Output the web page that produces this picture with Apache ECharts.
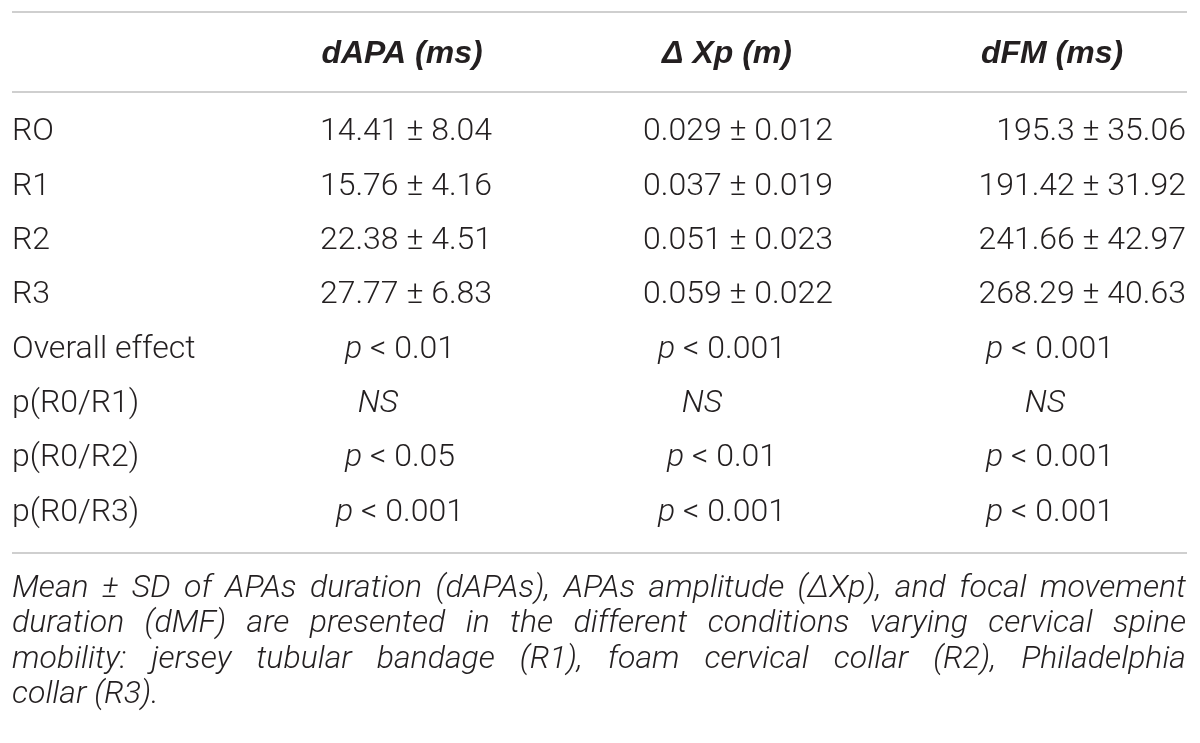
<!DOCTYPE html>
<html>
<head>
<meta charset="utf-8">
<script src="https://cdn.jsdelivr.net/npm/echarts@6/dist/echarts.min.js"></script>
<style>
  html, body { margin: 0; padding: 0; background: #fff; }
  #main { width: 1200px; height: 743px; }
</style>
</head>
<body>
<div id="main"></div>
<script>
// table content
const rowLabels = ['RO', 'R1', 'R2', 'R3', 'Overall effect', 'p(R0/R1)', 'p(R0/R2)', 'p(R0/R3)'];
const columnTitles = ['dAPA (ms)', '\u0394 Xp (m)', 'dFM (ms)'];

const dapaMean = [14.41, 15.76, 22.38, 27.77];
const dapaSd = [8.04, 4.16, 4.51, 6.83];
const xpMean = [0.029, 0.037, 0.051, 0.059];
const xpSd = [0.012, 0.019, 0.023, 0.022];
const dfmMean = [195.3, 191.42, 241.66, 268.29];
const dfmSd = [35.06, 31.92, 42.97, 40.63];

// overall effect, R0/R1, R0/R2, R0/R3
const dapaP = ['< 0.01', 'NS', '< 0.05', '< 0.001'];
const xpP = ['< 0.001', 'NS', '< 0.01', '< 0.001'];
const dfmP = ['< 0.001', 'NS', '< 0.001', '< 0.001'];

const captionLines = [
  'Mean \u00b1 SD of APAs duration (dAPAs), APAs amplitude (\u0394Xp), and focal movement',
  'duration (dMF) are presented in the different conditions varying cervical spine',
  'mobility: jersey tubular bandage (R1), foam cervical collar (R2), Philadelphia',
  'collar (R3).'
];

// layout
const FONT = 'Roboto, "Helvetica Neue", "Liberation Sans", sans-serif';
const INK = '#231f20';
const SIZE = 32;
const LEFT = 12, RIGHT = 1187;
const colValueX = [406, 738, 1186];
const colValueAlign = ['center', 'center', 'right'];
const colPX = [400, 722, 1050];
const colNSX = [378, 702, 1045];
const colHeadX = [402, 727, 1052];

const means = [dapaMean, xpMean, dfmMean];
const sds = [dapaSd, xpSd, dfmSd];
const pvals = [dapaP, xpP, dfmP];

const cells = [];
rowLabels.forEach(function (lab, r) {
  cells.push({ x: LEFT, row: r, align: 'left', text: lab });
});
for (let c = 0; c < 3; c++) {
  for (let r = 0; r < 4; r++) {
    cells.push({ x: colValueX[c], row: r, align: colValueAlign[c],
      text: means[c][r] + ' \u00b1 ' + sds[c][r] });
  }
  for (let k = 0; k < 4; k++) {
    const v = pvals[c][k];
    if (v === 'NS') {
      cells.push({ x: colNSX[c], row: 4 + k, align: 'center', text: '{i|NS}' });
    } else {
      cells.push({ x: colPX[c], row: 4 + k, align: 'center', text: '{i|p} {n|' + v + '}' });
    }
  }
}

const baseStyle = { fontFamily: FONT, fontSize: SIZE, fontWeight: 300, fill: INK };
const rich = {
  i: Object.assign({}, baseStyle, { fontStyle: 'italic' }),
  n: Object.assign({}, baseStyle)
};

// header, rules and caption
const graphics = [];
[12, 92, 553].forEach(function (y) {
  graphics.push({ type: 'line', shape: { x1: LEFT, y1: y, x2: RIGHT, y2: y },
    style: { stroke: '#cfcfcf', lineWidth: 2 }, silent: true });
});
columnTitles.forEach(function (t, c) {
  graphics.push({ type: 'text', x: colHeadX[c], y: 54, silent: true,
    style: { text: t, align: 'center', verticalAlign: 'middle',
      font: 'italic bold 32px "Liberation Sans", Arial, sans-serif', fill: INK } });
});

const capFont = 'italic 300 32px ' + FONT;
const ctx = document.createElement('canvas').getContext('2d');
ctx.font = capFont;
const capY = [589, 624, 660, 695];
captionLines.forEach(function (line, li) {
  const words = line.split(' ');
  const widths = words.map(function (w) { return ctx.measureText(w).width; });
  const total = widths.reduce(function (a, b) { return a + b; }, 0);
  const last = li === captionLines.length - 1;
  const gap = last ? ctx.measureText(' ').width : (RIGHT - 1 - LEFT - total) / (words.length - 1);
  let x = LEFT;
  words.forEach(function (w, wi) {
    graphics.push({ type: 'text', x: x, y: capY[li], silent: true,
      style: { text: w, align: 'left', verticalAlign: 'middle', font: capFont, fill: INK } });
    x += widths[wi] + gap;
  });
});

const chart = echarts.init(document.getElementById('main'));
chart.setOption({
  backgroundColor: '#fff',
  animation: false,
  grid: { left: 0, right: 0, top: 105, bottom: 203 },
  xAxis: { type: 'value', min: 0, max: 1200, show: false },
  yAxis: { type: 'category', data: rowLabels, inverse: true, show: false },
  graphic: graphics,
  series: [{
    type: 'custom',
    silent: true,
    data: cells.map(function (c) { return [c.x, c.row]; }),
    renderItem: function (params, api) {
      const cell = cells[params.dataIndex];
      const p = api.coord([api.value(0), api.value(1)]);
      return {
        type: 'text',
        x: p[0],
        y: p[1],
        style: Object.assign({}, baseStyle, {
          text: cell.text, align: cell.align, verticalAlign: 'middle', rich: rich
        })
      };
    }
  }]
});
</script>
</body>
</html>
